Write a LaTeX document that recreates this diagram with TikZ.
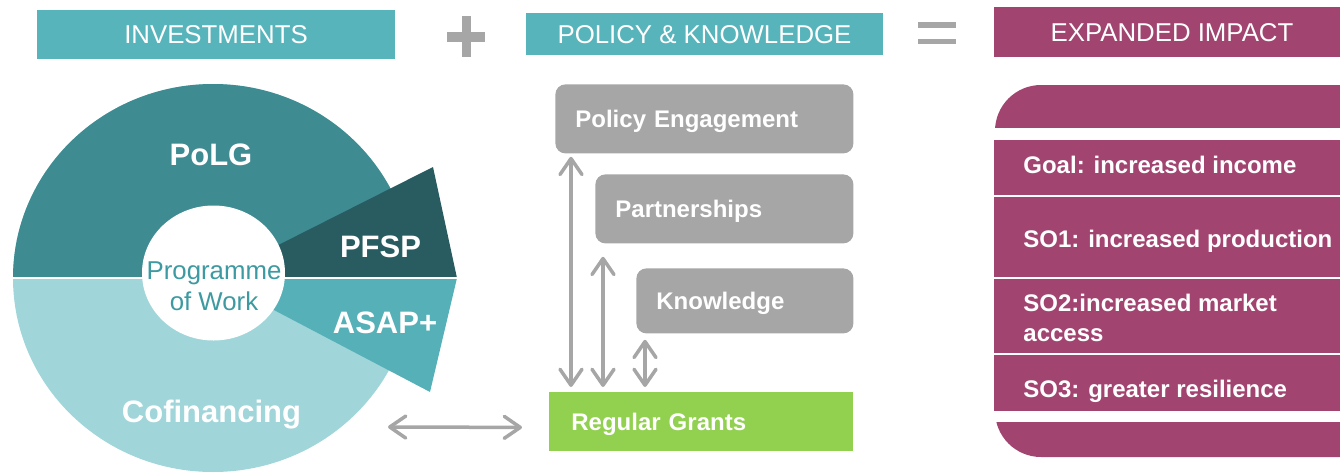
\documentclass[tikz,border=0pt]{standalone}
\usepackage{fontspec}
\setmainfont{Liberation Sans}
\usetikzlibrary{arrows.meta,calc}

\definecolor{cabecera}{HTML}{58B4BB}
\definecolor{polg}{HTML}{3E8B91}
\definecolor{pfsp}{HTML}{285C61}
\definecolor{asap}{HTML}{56B0B8}
\definecolor{cofin}{HTML}{A0D5D9}
\definecolor{programa}{HTML}{3D9AA1}
\definecolor{impacto}{HTML}{A24470}
\definecolor{gris}{HTML}{A6A6A6}
\definecolor{verde}{HTML}{92D050}

\begin{document}
\begin{tikzpicture}[x=0.5pt, y=-0.5pt,
    >={Straight Barb[length=8pt,width=11pt,round]},
    titulo/.style={fill=#1, text=white, font=\fontsize{12.9}{15}\selectfont, inner sep=0pt, text height=9.2pt, text depth=0pt},
    caja/.style={fill=gris, rounded corners=5pt, text=white, font=\bfseries\fontsize{12}{14}\selectfont, align=left, inner xsep=10pt, inner ysep=0pt, text height=9pt, text depth=0pt, anchor=north west},
    etiqueta/.style={text=white, font=\bfseries\fontsize{15.5}{18}\selectfont, inner sep=0pt, anchor=base},
    objetivo/.style={text=white, font=\bfseries\fontsize{12}{15}\selectfont, inner sep=0pt, anchor=base west, align=left},
    flecha/.style={draw=gris, line width=1.75pt, <->},
    separador/.style={draw=white, line width=1pt}]
    \useasboundingbox (0,0) rectangle (1340,472);
    \clip (0,0) rectangle (1340,472);

    % Cabeceras
    \node[titulo=cabecera, minimum width=179pt, minimum height=24.5pt] (inv) at (216,34.5) {INVESTMENTS};
    \node[titulo=cabecera, minimum width=178.5pt, minimum height=21pt] (pk) at (704.5,34) {POLICY \& KNOWLEDGE};
    \node[titulo=impacto, minimum width=178pt, minimum height=25pt] (ei) at (1172,32) {EXPANDED IMPACT};
    % Signos + y =
    \fill[gris] (461.5,16) rectangle (470.5,57);
    \fill[gris] (447,31.5) rectangle (485,42);
    \fill[gris] (918,22) rectangle (956,27.5);
    \fill[gris] (918,38.5) rectangle (956,44);

    % Circulo de inversiones
    \fill[cofin] (213,278) ellipse [x radius=200, y radius=194];
    \fill[polg] (13,278) arc [start angle=180, end angle=360, x radius=200, y radius=194] -- cycle;
    \fill[pfsp] (213,278) -- (433,167) -- (457,278) -- cycle;
    \fill[asap] (213,278) -- (457,278) -- (430,392) -- cycle;
    \draw[separador] (12,278) -- (458,278);
    \fill[white] (213.5,273) ellipse [x radius=71.5, y radius=67.5];

    \node[etiqueta] (lpolg) at (211,165) {PoLG};
    \node[etiqueta] (lpfsp) at (380.5,257) {PFSP};
    \node[etiqueta] (lasap) at (385,333) {ASAP+};
    \node[etiqueta] (lcofin) at (211.5,422) {Cofinancing};
    \node[text=programa, font=\fontsize{12.9}{15.5}\selectfont, align=center, inner sep=0pt] (pow) at (214,286) {Programme\\of Work};

    % Cajas de politica y conocimiento
    \node[caja, minimum width=149pt, minimum height=34.5pt, text width=129pt] (pe) at (555,84) {Policy Engagement};
    \node[caja, minimum width=129pt, minimum height=34.5pt, text width=109pt] (pa) at (595,174) {Partnerships};
    \node[caja, minimum width=108.5pt, minimum height=32.5pt, text width=88.5pt] (kn) at (636,268) {Knowledge};
    \node[caja, fill=verde, sharp corners, inner xsep=11pt, minimum width=152pt, minimum height=29.5pt, text width=130pt] (rg) at (549,392) {Regular Grants};

    % Flechas
    \draw[flecha] ($(pe.south west)+(16,3)$) -- ($(rg.north west)+(22,-5)$);
    \draw[flecha] ($(pa.south west)+(8,13)$) -- ($(rg.north west)+(54,-5)$);
    \draw[flecha] ($(kn.south west)+(9,6)$) -- ($(rg.north west)+(96,-5)$);
    \coordinate (libre) at (388,427);
    \draw[flecha] (libre) -- ($(rg.west)+(-27,5.5)$);

    % Impacto
    \fill[impacto, rounded corners=23pt] (995,85) rectangle (1400,457);
    \fill[white] (990,128) rectangle (1400,140);
    \fill[white] (990,411) rectangle (1400,422);
    \fill[impacto] (994,140) rectangle (1400,411);
    \foreach \y in {196,278,354}
        \draw[separador] (994,\y) -- (1400,\y);

    \node[objetivo] (goal) at (1023,173) {Goal: increased income};
    \node[objetivo] (so1) at (1023,247) {SO1: increased production};
    \node[objetivo, anchor=west] (so2) at (1023,318) {SO2:increased market\\access};
    \node[objetivo] (so3) at (1023,397) {SO3: greater resilience};
\end{tikzpicture}
\end{document}
